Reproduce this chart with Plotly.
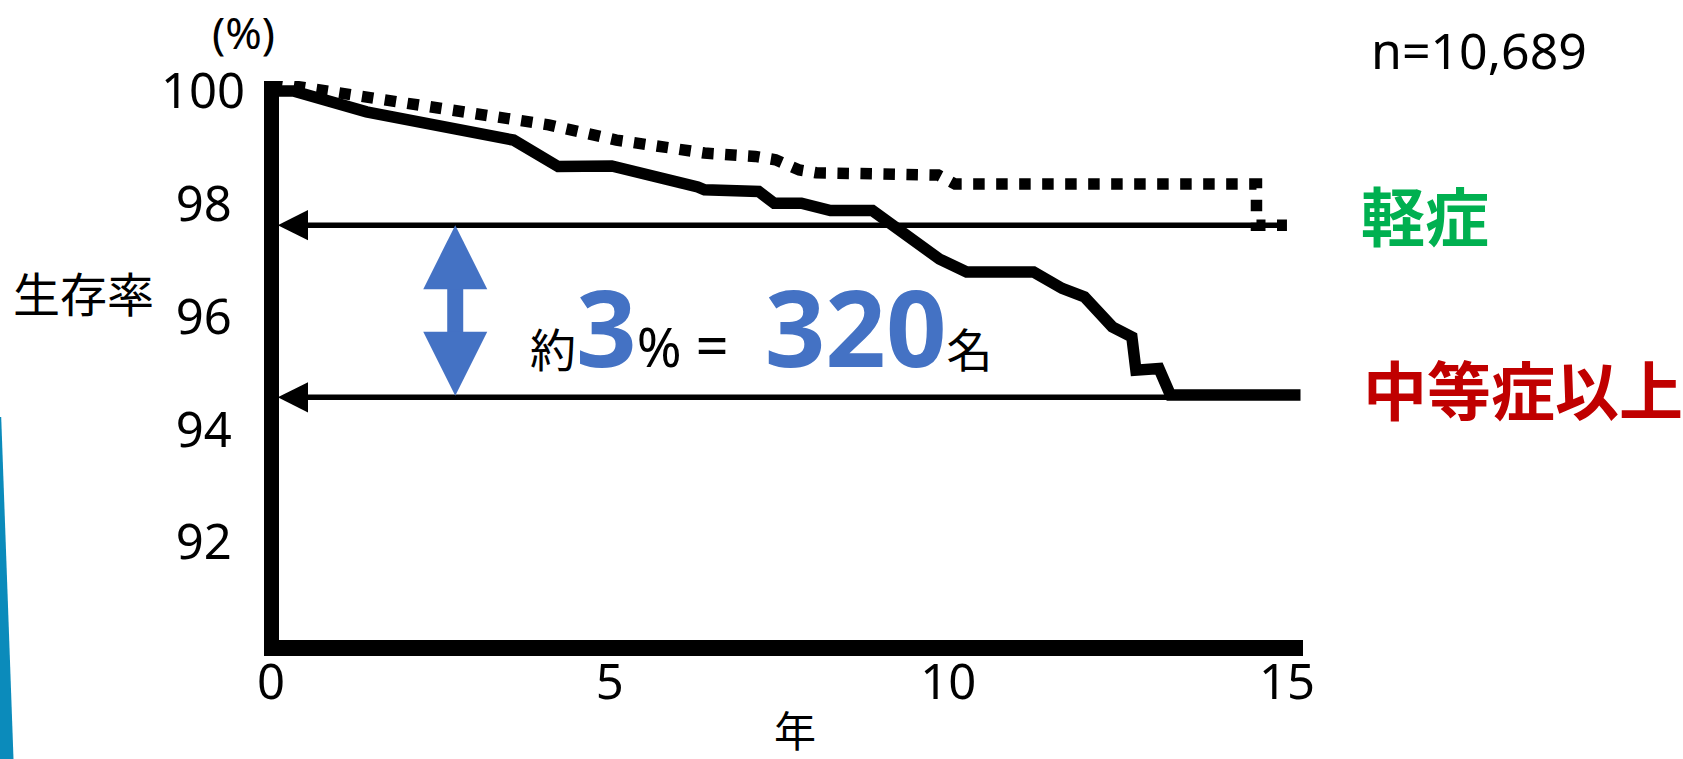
import plotly.graph_objects as go

# Kaplan-Meier style survival curves (years, survival %)
mild_years = [0, 1.6, 4.1, 5.1, 6.0, 6.4, 7.15, 7.45, 7.8, 8.05, 9.85, 10.1, 14.55, 14.55, 15.0]
mild_surv = [100.15, 99.84, 99.40, 99.13, 98.95, 98.90, 98.84, 98.78, 98.60, 98.55, 98.51,
             98.35, 98.35, 97.62, 97.62]

severe_years = [0, 0.33, 1.41, 3.58, 4.24, 5.03, 6.3, 6.4, 7.2, 7.43, 7.83, 8.26, 8.88,
                9.87, 10.27, 11.26, 11.68, 12.01, 12.42, 12.71, 12.77, 13.11, 13.28, 15.2]
severe_surv = [100, 100, 99.63, 99.13, 98.66, 98.67, 98.30, 98.25, 98.22, 98.01, 98.01,
               97.88, 97.88, 97.02, 96.79, 96.79, 96.50, 96.35, 95.82, 95.64, 95.05,
               95.08, 94.61, 94.61]

# reference levels at the end of follow-up
mild_level = 97.62
severe_level = 94.57
gap_pct = 3
gap_people = 320

x_ticks = [0, 5, 10, 15]
y_ticks = [92, 94, 96, 98, 100]
y_ticktext = ["92\u2008", "94\u2008", "96\u2008", "98\u2008", "100"]

W, H = 1683, 759
M = dict(l=264, r=380, t=81, b=119)
PW = W - M["l"] - M["r"]
PH = H - M["t"] - M["b"]


def paper_x(px):
    return (px - M["l"]) / PW


def paper_y(py):
    return (H - M["b"] - py) / PH


FONT = "Noto Sans, Noto Sans CJK JP, sans-serif"
BLUE = "#4472C4"

fig = go.Figure()

fig.add_trace(go.Scatter(
    x=mild_years, y=mild_surv, mode="lines", name="軽症",
    line=dict(color="black", width=11.5, dash="dot"), showlegend=False,
))
fig.add_trace(go.Scatter(
    x=severe_years, y=severe_surv, mode="lines", name="中等症以上",
    line=dict(color="black", width=11.5), showlegend=False,
))

annotations = []
# thin reference lines with arrowheads pointing at the y axis
for level, tail in [(mild_level, mild_years[-1]), (severe_level, severe_years[-1])]:
    annotations.append(dict(
        x=0.1, y=level, ax=tail, ay=level, xref="x", yref="y", axref="x", ayref="y",
        text="", showarrow=True, arrowhead=2, arrowsize=1.1, arrowwidth=5.5,
        arrowcolor="black", standoff=0,
    ))
# double-headed blue arrow spanning the gap
annotations.append(dict(
    x=2.72, y=mild_level, ax=2.72, ay=severe_level, xref="x", yref="y", axref="x", ayref="y",
    text="", showarrow=True, arrowside="end+start", arrowhead=2, startarrowhead=2,
    arrowsize=0.8, startarrowsize=0.8, arrowwidth=16, arrowcolor=BLUE,
    standoff=0, startstandoff=0,
))
# gap label
big = f"font-size:106px;color:{BLUE};font-weight:bold"
nb = "\u00a0"
annotations.append(dict(
    x=3.8, y=severe_level, xref="x", yref="y", xanchor="left", yanchor="bottom", yshift=-3,
    text=(f"約<span style='{big}'>{gap_pct}</span><span style='font-size:54px'>%{nb}</span>"
          f"<span style='font-size:58px'>={nb}</span><span style='font-size:80px'>{nb}</span>"
          f"<span style='{big}'>{gap_people}</span>名"),
    showarrow=False, font=dict(family=FONT, size=46, color="black"),
))


def label(px, py, text, size, color="black", height=None):
    annotations.append(dict(
        x=paper_x(px), y=paper_y(py), xref="paper", yref="paper",
        xanchor="center", yanchor="middle", text=text, showarrow=False,
        font=dict(family=FONT, size=size, color=color), height=height,
    ))


# group labels
label(1425, 216, "<b>軽症</b>", 64, "#00B050")
label(1523, 390, "<b>中等症以上</b>", 64, "#C00000")
label(1479, 50, "n=10,689", 50)
# axis captions
label(83, 294, "生存率", 47)
label(243, 32, "(%)", 44)
label(795, 730, "年", 42, height=42)

# slide accent stripe along the left edge
stripe = [(0, 417), (1.2, 417), (13.5, H), (0, H)]
path = "M " + " L ".join(f"{paper_x(px):.5f},{paper_y(py):.5f}" for px, py in stripe) + " Z"
shapes = [dict(type="path", xref="paper", yref="paper", path=path,
               fillcolor="#0B8BBB", line=dict(width=0), layer="above")]

px_per_year = 67.73
x0_px = 271
x_range = [(M["l"] - x0_px) / px_per_year, (W - M["r"] - x0_px) / px_per_year]
px_per_pct = 56.4
y100_px = 91
y_range = [100 - (H - M["b"] - y100_px) / px_per_pct, 100 + (y100_px - M["t"]) / px_per_pct]

fig.update_layout(
    width=W, height=H, margin=M,
    paper_bgcolor="white", plot_bgcolor="white",
    font=dict(family=FONT, color="black"),
    annotations=annotations, shapes=shapes,
    xaxis=dict(
        range=x_range, tickvals=x_ticks, showgrid=False,
        zeroline=True, zerolinecolor="black", zerolinewidth=15,
        showline=True, linecolor="black", linewidth=16,
        ticks="", tickfont=dict(size=49, family=FONT), ticklabelstandoff=-16,
    ),
    yaxis=dict(
        range=y_range, tickvals=y_ticks, ticktext=y_ticktext, showgrid=False,
        zeroline=False, showline=False, ticks="",
        tickfont=dict(size=49, family=FONT), ticklabelstandoff=18,
    ),
)

fig.write_html("out.html")
